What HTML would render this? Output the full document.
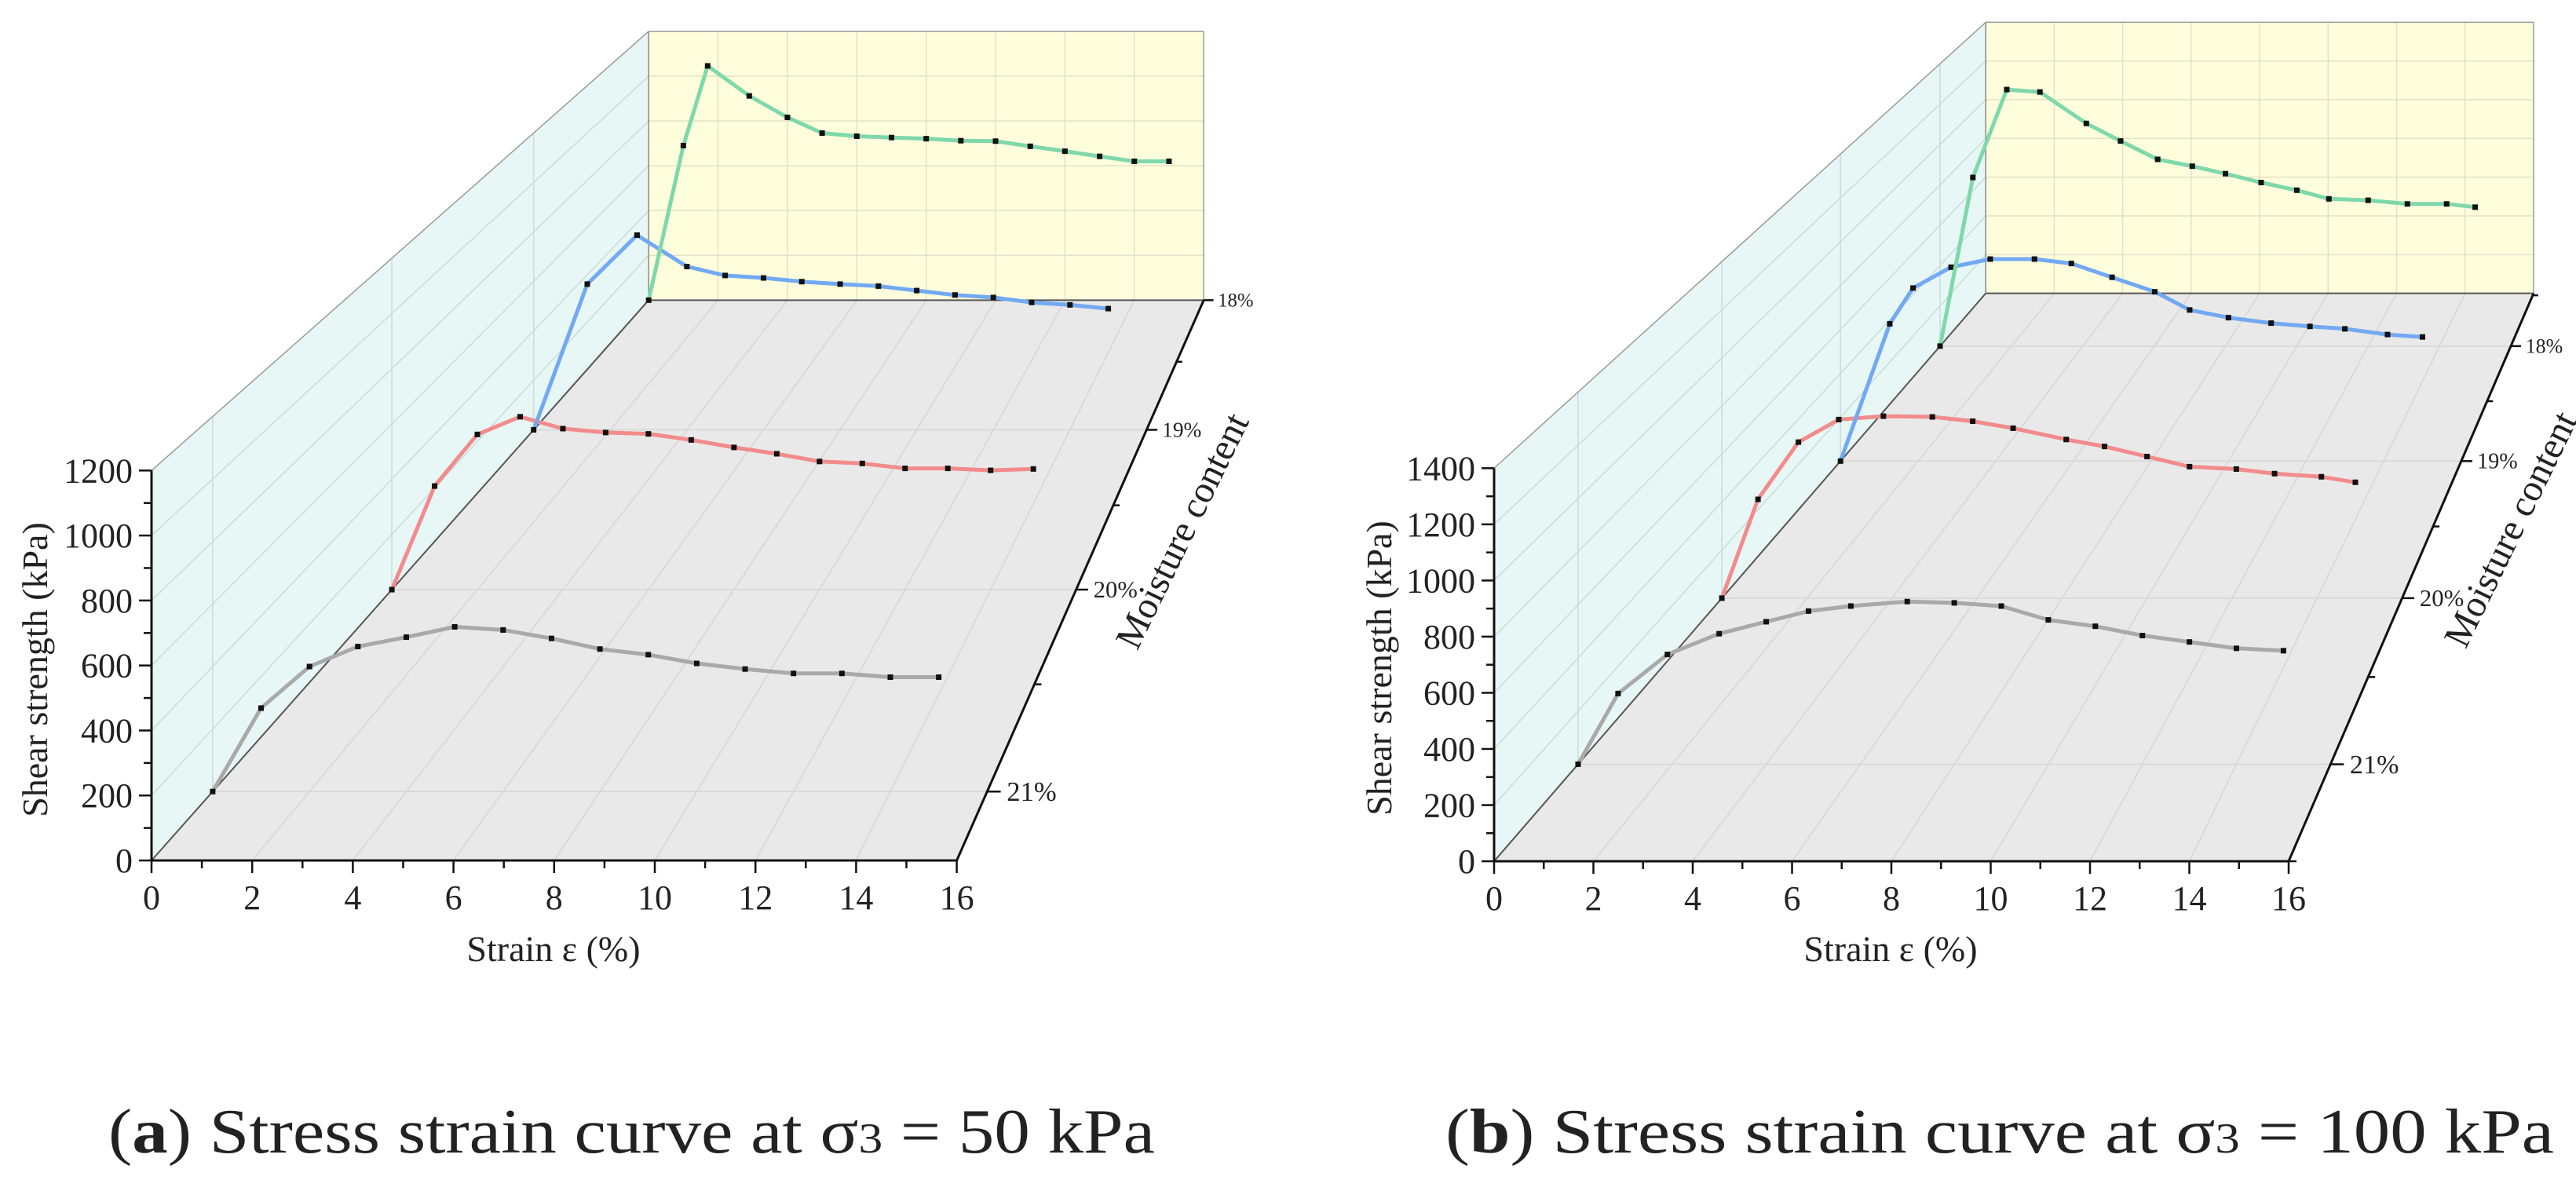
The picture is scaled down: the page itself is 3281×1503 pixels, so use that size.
<!DOCTYPE html>
<html><head><meta charset="utf-8">
<style>
html,body{margin:0;padding:0;background:#fff;}
svg{display:block;}
text{font-family:"Liberation Serif","DejaVu Serif",serif;fill:#222;}
</style></head>
<body>
<svg id="root" xmlns="http://www.w3.org/2000/svg" width="3281" height="1503" viewBox="0 0 3281 1503">
<rect x="0" y="0" width="3281" height="1503" fill="#fff"/>
<text x="138" y="1468" font-size="80" textLength="1333" lengthAdjust="spacingAndGlyphs">(<tspan font-weight="bold">a</tspan>) Stress strain curve at σ<tspan font-size="54">3</tspan> = 50 kPa</text>
<text x="1841" y="1468" font-size="80" textLength="1412" lengthAdjust="spacingAndGlyphs">(<tspan font-weight="bold">b</tspan>) Stress strain curve at σ<tspan font-size="54">3</tspan> = 100 kPa</text>
</svg>
<script>
// ---- Chart (a) data: sigma3 = 50 kPa ----
const moistureLevels = [21, 20, 19, 18];
const xTickLabels = [0, 2, 4, 6, 8, 10, 12, 14, 16];
const yTicksA = [0, 200, 400, 600, 800, 1000, 1200];
const yTicksB = [0, 200, 400, 600, 800, 1000, 1200, 1400];
const strainA21 = [0,1,2,3,4,5,6,7,8,9,10,11,12,13,14,15];
const stressA21 = [0,267,400,464,494,527,517,490,456,438,410,392,378,378,366,366];
const strainA20 = [0,1,2,3,4,5,6,7,8,9,10,11,12,13,14,15];
const stressA20 = [0,375,562,626,583,569,564,542,515,492,464,457,439,439,432,437];
const strainA19 = [0,1.4,2.7,4,5,6,7,8,9,10,11,12,13,14,15];
const stressA19 = [0,589,787,660,624,614,599,589,581,563,545,535,515,505,490];
const strainA18 = [0,1,1.7,2.9,4,5,6,7,8,9,10,11,12,13,14,15];
const stressA18 = [0,690,1046,912,816,746,732,726,721,712,710,687,665,642,620,620];
// ---- Chart (b) data: sigma3 = 100 kPa ----
const strainB21 = [0,0.85,1.9,3,4,4.9,5.8,7,8,9,10,11,12,13,14,15];
const stressB21 = [0,266,413,491,536,576,595,612,607,595,543,519,484,460,436,427];
const strainB20 = [0,0.85,1.8,2.75,3.8,4.95,5.9,6.85,8.1,9,10,11,12.1,13,14.1,14.9];
const stressB20 = [0,411,649,743,757,754,736,707,660,631,589,547,537,518,505,482];
const strainB19 = [0,1.27,1.87,2.85,3.86,5,5.95,7,8.1,9,10,11.1,12.1,13,14.1,15];
const stressB19 = [0,626,789,884,921,921,901,838,772,689,654,629,614,603,577,566];
const strainB18 = [0,0.92,1.87,2.8,4.1,5.06,6.1,7.07,8,9,10,10.9,12,13.1,14.2,15];
const stressB18 = [0,836,1272,1260,1104,1017,926,892,855,811,773,730,723,705,705,689];

const NS = 'http://www.w3.org/2000/svg';
const svg = document.getElementById('root');
function mk(parent, tag, attrs) {
  const e = document.createElementNS(NS, tag);
  for (const k in attrs) e.setAttribute(k, attrs[k]);
  parent.appendChild(e);
  return e;
}
const colors = {21:'#a9a9a9', 20:'#f28b8b', 19:'#72a9f2', 18:'#7fd8aa'};

function drawChart(cfg, yTicks, seriesList) {
  const g = mk(svg, 'g', {});
  
  
  const F = cfg.mFront, B = cfg.mBack, Y = cfg.ymax;
  const sc = m => 1 / (1 + cfg.k * (F - m));
  const P = (x, v, m) => { const s = sc(m); return [cfg.vx + (cfg.x0 + x * cfg.xu - cfg.vx) * s, cfg.vy + (cfg.y0 - v * cfg.yu - cfg.vy) * s]; };
  const pts = arr => arr.map(p => p[0].toFixed(1) + ',' + p[1].toFixed(1)).join(' ');
  const line = (a, b, stroke, w, name) => {
    const l = mk(g, 'line', {x1:a[0], y1:a[1], x2:b[0], y2:b[1], stroke:stroke, 'stroke-width':w});
    
    
    return l;
  };
  // planes
  const floor = mk(g, 'polygon', {points: pts([P(0,0,F),P(16,0,F),P(16,0,B),P(0,0,B)]), fill:'#e9e9e9'});
  
  
  const wall = mk(g, 'polygon', {points: pts([P(0,0,F),P(0,Y,F),P(0,Y,B),P(0,0,B)]), fill:'#e7f7f5'});
  
  
  const back = mk(g, 'polygon', {points: pts([P(0,0,B),P(16,0,B),P(16,Y,B),P(0,Y,B)]), fill:'#fefedd'});
  
  
  // grids
  for (let x = 2; x < 16; x += 2) {
    line(P(x,0,F), P(x,0,B), '#d6d6d6', 1.5, 'floor-grid-line');
    line(P(x,0,B), P(x,Y,B), '#e2e2c4', 1.5, 'back-grid-line');
  }
  yTicks.forEach(v => {
    if (v === 0 || v === Y) return;
    line(P(0,v,F), P(0,v,B), '#c9dcda', 1.5, 'wall-grid-line');
    line(P(0,v,B), P(16,v,B), '#e2e2c4', 1.5, 'back-grid-line');
  });
  moistureLevels.forEach(m => {
    if (m <= B + 0.01 || m >= F) return;
    line(P(0,0,m), P(16,0,m), '#d6d6d6', 1.5, 'floor-grid-line');
    line(P(0,0,m), P(0,Y,m), '#c9dcda', 1.5, 'wall-grid-line');
  });
  // edges
  line(P(0,Y,F), P(0,Y,B), '#9a9a9a', 1.5, 'wall-top-edge');
  line(P(0,Y,B), P(16,Y,B), '#9a9a9a', 1.5, 'back-top-edge');
  line(P(16,0,B), P(16,Y,B), '#9a9a9a', 1.5, 'back-right-edge');
  line(P(0,0,B), P(0,Y,B), '#8a8a8a', 1.5, 'back-left-edge');
  line(P(0,0,B), P(16,0,B), '#555', 2, 'floor-back-edge');
  line(P(0,0,F), P(0,0,B), '#555', 2, 'floor-left-edge');
  // axes
  line(P(0,0,F), P(0,Y,F), '#111', 3, 'y-axis');
  line(P(0,0,F), P(16,0,F), '#111', 3, 'x-axis');
  line(P(16,0,F), P(16,0,B), '#111', 3, 'moisture-axis');
  // x ticks
  for (let x = 0; x <= 16; x++) {
    const p = P(x,0,F);
    line(p, [p[0], p[1] + (x % 2 === 0 ? 16 : 10)], '#111', 2.5, 'x-tick');
  }
  xTickLabels.forEach(x => {
    const p = P(x,0,F);
    const t = mk(g, 'text', {x:p[0], y:p[1] + 62, 'font-size':44, 'text-anchor':'middle'});
    t.textContent = x;
    
    
  });
  // y ticks
  for (let v = 0; v <= Y; v += 100) {
    const p = P(0,v,F);
    line([p[0] - (v % 200 === 0 ? 16 : 10), p[1]], p, '#111', 2.5, 'y-tick');
  }
  yTicks.forEach(v => {
    const p = P(0,v,F);
    const t = mk(g, 'text', {x:p[0] - 24, y:p[1] + 15, 'font-size':44, 'text-anchor':'end'});
    t.textContent = v;
    
    
  });
  // moisture ticks
  for (let m = Math.ceil(B * 2) / 2; m <= F + 0.001; m += 0.5) {
    const p = P(16,0,m), s = sc(m);
    const major = Math.abs(m - Math.round(m)) < 0.01;
    line(p, [p[0] + (major ? 18 : 10) * s, p[1]], '#111', 2.5, 'moisture-tick');
  }
  moistureLevels.forEach(m => {
    const p = P(16,0,m), s = sc(m);
    const t = mk(g, 'text', {x:p[0] + 26 * s, y:p[1] + 12 * s, 'font-size':(36 * s).toFixed(1)});
    t.textContent = m + '%';
    
    
  });
  // titles
  const yt = mk(g, 'text', {x:0, y:0, 'font-size':46, 'text-anchor':'middle', transform:'translate(' + cfg.yTitle[0] + ',' + cfg.yTitle[1] + ') rotate(-90)'});
  yt.textContent = 'Shear strength (kPa)';
  
  
  const xt = mk(g, 'text', {x:cfg.xTitle[0], y:cfg.xTitle[1], 'font-size':46, 'text-anchor':'middle'});
  xt.textContent = 'Strain ε (%)';
  
  
  const mt = mk(g, 'text', {x:0, y:0, 'font-size':48, 'text-anchor':'middle', transform:'translate(' + cfg.mTitle[0] + ',' + cfg.mTitle[1] + ') rotate(-64)'});
  mt.textContent = 'Moisture content';
  
  
  // series
  seriesList.forEach(sr => {
    const ps = sr.x.map((x, i) => P(x, sr.v[i], sr.m));
    const pl = mk(g, 'polyline', {points: pts(ps), fill:'none', stroke:colors[sr.m], 'stroke-width':5, 'stroke-linejoin':'round'});
    
    
    ps.forEach(p => {
      const r = mk(g, 'rect', {x:p[0] - 3.5, y:p[1] - 3.5, width:7, height:7, fill:'#111'});
      
      
    });
  });
}

drawChart({name:'chart-a', x0:193, y0:1096, xu:64.1, yu:0.4139, vx:2231, vy:-1201, k:0.137, mFront:21.29, mBack:18, ymax:1200,
  yTitle:[60, 853], xTitle:[705, 1224], mTitle:[1520, 683]}, yTicksA, [
  {m:21, x:strainA21, v:stressA21},
  {m:20, x:strainA20, v:stressA20},
  {m:19, x:strainA19, v:stressA19},
  {m:18, x:strainA18, v:stressA18}
]);
drawChart({name:'chart-b', x0:1903, y0:1097, xu:63.25, yu:0.3576, vx:3920, vy:-1233, k:0.112, mFront:21.5, mBack:17.48, ymax:1400,
  yTitle:[1772, 851], xTitle:[2408, 1224], mTitle:[3212, 681]}, yTicksB, [
  {m:21, x:strainB21, v:stressB21},
  {m:20, x:strainB20, v:stressB20},
  {m:19, x:strainB19, v:stressB19},
  {m:18, x:strainB18, v:stressB18}
]);
</script>
</body></html>
